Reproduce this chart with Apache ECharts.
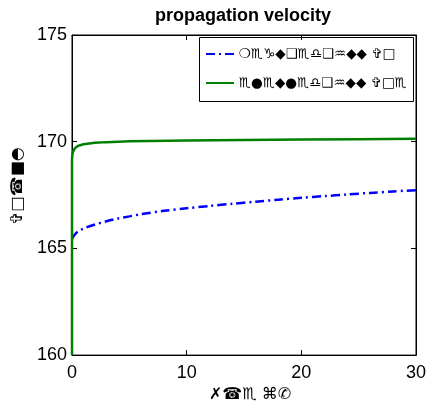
<!DOCTYPE html>
<html>
<head>
<meta charset="utf-8">
<script src="https://cdn.jsdelivr.net/npm/echarts@6/dist/echarts.min.js"></script>
<style>html,body{margin:0;padding:0;background:#fff}#c{width:432px;height:408px}</style>
</head>
<body>
<div id="c"></div>
<script>
var titleText = "propagation velocity";
var seriesNames = ["❍♏♑◆❑♏♎❑♒◆◆ ✞□", "♏●♏◆●♏♎❑♒◆◆ ✞□♏"];
var xLabel = "✗☎♏ ⌘✆";
var yLabel = "✞□☎■◓";
var xTicks = [0, 10, 20, 30];
var yTicks = [160, 165, 170, 175];

var blueX = [0, 0.2, 0.5, 1, 2, 3, 4, 5, 6, 8, 10, 12, 14, 16, 18, 20, 22, 24, 26, 28, 30];
var blueY = [165.45, 165.62, 165.78, 165.93, 166.12, 166.27, 166.4, 166.5, 166.6, 166.76, 166.88, 166.99, 167.09, 167.19, 167.28, 167.37, 167.45, 167.53, 167.6, 167.67, 167.73];

var greenX = [0, 0, 0.05, 0.15, 0.3, 0.5, 1, 2, 3, 5, 10, 15, 20, 25, 30];
var greenY = [160, 169.2, 169.45, 169.6, 169.72, 169.8, 169.88, 169.95, 169.98, 170.02, 170.06, 170.08, 170.1, 170.12, 170.14];

function pairs(xs, ys) { return xs.map(function (x, i) { return [x, ys[i]]; }); }

var chart = echarts.init(document.getElementById('c'), null, { renderer: 'canvas' });
var tickFont = { fontFamily: 'Liberation Sans, Arial, sans-serif', fontSize: 18, color: '#000' };
chart.setOption({
  animation: false,
  backgroundColor: '#fff',
  title: {
    text: titleText, left: 150, top: 2,
    textStyle: { fontFamily: 'Liberation Sans, Arial, sans-serif', fontSize: 18, fontWeight: 'bold', color: '#000' }
  },
  grid: { left: 72, right: 16, top: 35, bottom: 45, show: true, borderColor: '#000', borderWidth: 1, containLabel: false },
  legend: {
    orient: 'vertical', left: 200, top: 42, itemWidth: 28, itemHeight: 12, itemGap: 15,
    data: seriesNames,
    itemStyle: { opacity: 0 },
    textStyle: { fontFamily: 'DejaVu Sans, sans-serif', fontSize: 13.5, color: '#000' }
  },
  graphic: [
    { type: 'rect', shape: { x: 199.5, y: 37.5, width: 214, height: 64 }, style: { fill: 'none', stroke: '#000', lineWidth: 1 }, z: 100 }
  ],
  xAxis: [{
    type: 'value', min: xTicks[0], max: xTicks[xTicks.length - 1], interval: 10,
    name: xLabel, nameLocation: 'middle', nameGap: 27,
    nameTextStyle: { fontFamily: 'DejaVu Sans, sans-serif', fontSize: 16, color: '#000', padding: [0, 0, 0, 12] },
    axisLine: { show: true, onZero: false, lineStyle: { color: '#000', width: 1 } },
    axisTick: { show: true, inside: true, length: 5, lineStyle: { color: '#000' } },
    axisLabel: Object.assign({ margin: 9 }, tickFont),
    splitLine: { show: false }
  }, {
    type: 'value', position: 'top', min: 0, max: 30, interval: 10,
    axisLine: { show: true, onZero: false, lineStyle: { color: '#000' } },
    axisTick: { show: true, inside: true, length: 5, lineStyle: { color: '#000' } },
    axisLabel: { show: false }, splitLine: { show: false }
  }],
  yAxis: [{
    type: 'value', min: yTicks[0], max: yTicks[yTicks.length - 1], interval: 5,
    name: yLabel, nameLocation: 'middle', nameGap: 42, nameRotate: 90,
    nameTextStyle: { fontFamily: 'DejaVu Sans, sans-serif', fontSize: 16, color: '#000', padding: [0, 0, 0, 18] },
    axisLine: { show: true, onZero: false, lineStyle: { color: '#000', width: 1 } },
    axisTick: { show: true, inside: true, length: 5, lineStyle: { color: '#000' } },
    axisLabel: Object.assign({ margin: 5 }, tickFont),
    splitLine: { show: false }
  }, {
    type: 'value', position: 'right', min: 160, max: 175, interval: 5,
    axisLine: { show: true, onZero: false, lineStyle: { color: '#000' } },
    axisTick: { show: true, inside: true, length: 5, lineStyle: { color: '#000' } },
    axisLabel: { show: false }, splitLine: { show: false }
  }],
  series: [{
    name: seriesNames[0], type: 'line', data: pairs(blueX, blueY), smooth: 0.3,
    symbol: 'none', lineStyle: { color: '#0000ff', width: 2.5, type: [9, 4, 2, 4] }, itemStyle: { color: '#0000ff' }
  }, {
    name: seriesNames[1], type: 'line', data: pairs(greenX, greenY), smooth: false,
    symbol: 'none', lineStyle: { color: '#008000', width: 2.5 }, itemStyle: { color: '#008000' }
  }]
});
</script>
</body>
</html>
